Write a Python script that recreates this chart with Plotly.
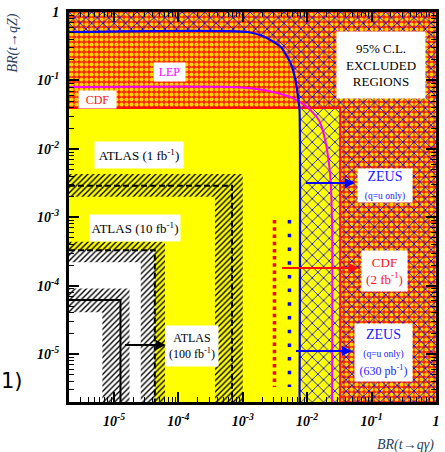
import numpy as np
import plotly.graph_objects as go

# ---------------- data ----------------
x_range = [2e-6, 1.0]          # BR(t -> q gamma)
y_range = [2e-6, 1.0]          # BR(t -> q Z)
tick_vals = [1e-5, 1e-4, 1e-3, 1e-2, 1e-1, 1.0]
tick_text = ["10<sup>-5</sup>", "10<sup>-4</sup>", "10<sup>-3</sup>",
             "10<sup>-2</sup>", "10<sup>-1</sup>", "1"]

# ATLAS sensitivities (line position and band edges)
atlas_lumi = ["1 fb<sup>-1</sup>", "10 fb<sup>-1</sup>", "100 fb<sup>-1</sup>"]
atlas_x = [6.8e-4, 4.3e-5, 1.26e-5]
atlas_y = [2.9e-3, 3.3e-4, 6.2e-5]
atlas_x_lo = [3.7e-4, 2.6e-5, 6.6e-6]
atlas_x_hi = [1.0e-3, 6.2e-5, 1.74e-5]
atlas_y_lo = [2.0e-3, 2.2e-4, 4.1e-5]
atlas_y_hi = [4.3e-3, 4.4e-4, 9.1e-5]

# CDF (Run I) limits
cdf_qz = 0.0395
cdf_qgamma = 0.0323

# combined LEP/ZEUS boundary (blue)
blue_x = [2e-6, 1.2e-3, 2.19e-3, 3.86e-3, 5.5e-3, 6.6e-3, 7.3e-3, 7.6e-3, 7.6e-3]
blue_y = [0.51, 0.51, 0.43, 0.31, 0.18, 0.10, 0.052, 0.037, 2e-6]

# LEP boundary (magenta)
lep_x = [2e-6, 6.6e-4, 2.2e-3, 5.5e-3, 0.010, 0.0153, 0.019, 0.0226, 0.0243, 0.0243]
lep_y = [0.080, 0.080, 0.072, 0.057, 0.041, 0.026, 0.0135, 0.0044, 9e-4, 2e-6]

# expected limits (dotted)
cdf2_x = 3.1e-3
zeus630_x = 5.3e-3
dotted_y = [9.1e-4, 3.3e-6]

SERIF = "Liberation Serif"
BLUE = "#1a1aff"
RED = "#ff1010"
MAG = "#ff00ff"
CLEAR = "rgba(0,0,0,0)"

fig = go.Figure()

xmin, xmax = x_range
ymin, ymax = y_range

# white region inside ATLAS 10 fb-1 reach
fig.add_trace(go.Scatter(
    x=[xmin, atlas_x[1], atlas_x[1], xmin, xmin],
    y=[ymin, ymin, atlas_y[1], atlas_y[1], ymin],
    fill="toself", fillcolor="white", mode="none", showlegend=False, hoverinfo="skip"))

# CDF excluded region
fig.add_trace(go.Scatter(
    x=[xmin, cdf_qgamma, cdf_qgamma, xmax, xmax, xmin, xmin],
    y=[cdf_qz, cdf_qz, ymin, ymin, ymax, ymax, cdf_qz],
    fill="toself", fillcolor="#ff2800", mode="none",
    fillpattern=dict(shape=".", fgcolor="#ffd200", bgcolor="#ff2000", size=5, solidity=0.55,
                     fillmode="replace"),
    showlegend=False, hoverinfo="skip"))

# LEP/ZEUS excluded region (blue cross hatch)
fig.add_trace(go.Scatter(
    x=blue_x + [xmax, xmax, xmin, blue_x[0]],
    y=blue_y + [ymin, ymax, ymax, blue_y[0]],
    fill="toself", mode="none", fillcolor=CLEAR,
    fillpattern=dict(shape="x", fgcolor="#0000ff", bgcolor=CLEAR, size=8, solidity=0.2,
                     fillmode="replace"),
    showlegend=False, hoverinfo="skip"))

# ATLAS hatched bands (L shapes)
for i in range(3):
    fig.add_trace(go.Scatter(
        x=[xmin, atlas_x_hi[i], atlas_x_hi[i], atlas_x_lo[i], atlas_x_lo[i], xmin, xmin],
        y=[atlas_y_hi[i], atlas_y_hi[i], ymin, ymin, atlas_y_lo[i], atlas_y_lo[i], atlas_y_hi[i]],
        fill="toself", mode="none", fillcolor=CLEAR,
        fillpattern=dict(shape="/", fgcolor="black", bgcolor=CLEAR, size=4, solidity=0.35,
                         fillmode="replace"),
        showlegend=False, hoverinfo="skip"))

# ATLAS lines
for i in range(3):
    fig.add_trace(go.Scatter(
        x=[xmin, atlas_x[i], atlas_x[i]], y=[atlas_y[i], atlas_y[i], ymin],
        mode="lines", line=dict(color="black", width=2,
                                dash="solid" if i == 2 else "6px,3px"),
        showlegend=False, hoverinfo="skip"))

# CDF boundary
fig.add_trace(go.Scatter(
    x=[xmin, cdf_qgamma, cdf_qgamma], y=[cdf_qz, cdf_qz, ymin],
    mode="lines", line=dict(color=RED, width=2), showlegend=False, hoverinfo="skip"))

# LEP curve
fig.add_trace(go.Scatter(x=lep_x, y=lep_y, mode="lines",
                         line=dict(color=MAG, width=2, shape="spline", smoothing=0.6),
                         showlegend=False, hoverinfo="skip"))
# blue curve
fig.add_trace(go.Scatter(x=blue_x, y=blue_y, mode="lines",
                         line=dict(color="#0000ff", width=2.2, shape="spline", smoothing=0.6),
                         showlegend=False, hoverinfo="skip"))

# dotted expected limits
fig.add_trace(go.Scatter(x=[cdf2_x, cdf2_x], y=dotted_y, mode="lines",
                         line=dict(color="red", width=3.5, dash="3.5px,3.7px"),
                         showlegend=False, hoverinfo="skip"))
fig.add_trace(go.Scatter(x=[zeus630_x, zeus630_x], y=dotted_y, mode="lines",
                         line=dict(color="#0000ff", width=3.5, dash="3.5px,10.2px"),
                         showlegend=False, hoverinfo="skip"))

L = np.log10

def box(text, x, y, color="black", size=13, w=None, h=None):
    fig.add_annotation(x=L(x), y=L(y), xref="x", yref="y", text=text, showarrow=False,
                       font=dict(family=SERIF, size=size, color=color),
                       bgcolor="white", width=w, height=h, align="center")

def arrow(x0, x1, y, color):
    fig.add_annotation(x=L(x1), y=L(y), ax=L(x0), ay=L(y), xref="x", yref="y",
                       axref="x", ayref="y", text="", showarrow=True,
                       arrowhead=2, arrowsize=1, arrowwidth=2, arrowcolor=color)

box("95% C.L.<br>EXCLUDED<br>REGIONS", 0.138, 0.168, size=13, w=86, h=64)
box("ATLAS (1 fb<sup>-1</sup>)", 2.46e-5, 8.1e-3, size=13, w=86, h=24)
box("ATLAS (10 fb<sup>-1</sup>)", 2.14e-5, 6.95e-4, size=13, w=88, h=24)
box("ATLAS<br>(100 fb<sup>-1</sup>)", 1.6e-4, 1.31e-5, size=12, w=50, h=38)
box("LEP", 7.36e-5, 0.133, color=MAG, size=12, w=29, h=16)
box("CDF", 5.56e-6, 0.052, color=RED, size=12, w=35, h=15)
box("ZEUS<br><span style='font-size:9.5px'>(q=u only)</span>", 0.164, 2.96e-3,
    color=BLUE, size=14, w=52, h=31)
box("CDF<br>(2 fb<sup>-1</sup>)", 0.158, 1.63e-4, color=RED, size=13, w=43, h=38)
box("ZEUS<br><span style='font-size:9.5px'>(q=u only)</span><br>"
    "<span style='font-size:12px'>(630 pb<sup>-1</sup>)</span>",
    0.153, 1.07e-5, color=BLUE, size=14, w=55, h=55)

arrow(9.04e-3, 0.0548, 3.16e-3, "#0000ff")
arrow(3.86e-3, 0.0632, 1.81e-4, RED)
arrow(6.34e-3, 0.0493, 1.11e-5, "#0000ff")
arrow(1.4e-5, 6.38e-5, 1.36e-5, "black")

# axis titles
fig.add_annotation(xref="paper", yref="paper", x=-0.155, y=1.0, xanchor="center", yanchor="top",
                   text="BR(t\u2192qZ)", textangle=-90, showarrow=False,
                   font=dict(family=SERIF, size=14, style="italic"))
fig.add_annotation(xref="paper", yref="paper", x=1.0, y=-0.085, xanchor="right", yanchor="top",
                   text="BR(t\u2192q\u03b3)", showarrow=False,
                   font=dict(family=SERIF, size=14, style="italic"))
# stray text at the left edge of the original crop
fig.add_annotation(xref="paper", yref="paper", x=-0.19, y=0.055, xanchor="left", yanchor="middle",
                   text="1)", showarrow=False, font=dict(family="DejaVu Sans", size=21, color="black"))

minor_vals = [m * 10.0 ** e for e in range(-6, 0) for m in range(2, 10)]

axis_common = dict(
    type="log", tickmode="array", tickvals=tick_vals, ticktext=tick_text,
    showgrid=False, zeroline=False,
    ticks="inside", ticklen=10, tickwidth=1.5, tickcolor="black",
    showline=True, linewidth=3, linecolor="black", mirror="allticks",
    minor=dict(ticks="inside", ticklen=5, tickwidth=1, tickcolor="black", showgrid=False,
               tickmode="array", tickvals=minor_vals),
    tickfont=dict(family=SERIF, size=14, style="italic", weight="bold", color="black"),
)
fig.update_layout(
    width=445, height=452,
    margin=dict(l=69, r=5, t=12, b=50),
    paper_bgcolor="white", plot_bgcolor="#ffff00",
    xaxis=dict(range=[L(xmin), L(xmax)], ticklabelstandoff=4, **axis_common),
    yaxis=dict(range=[L(ymin), L(ymax)], ticklabelstandoff=4, **axis_common),
    showlegend=False,
)

fig.write_html("out.html", config={"displayModeBar": False},
               post_script="document.body.style.margin='0';document.body.style.overflow='hidden';")
